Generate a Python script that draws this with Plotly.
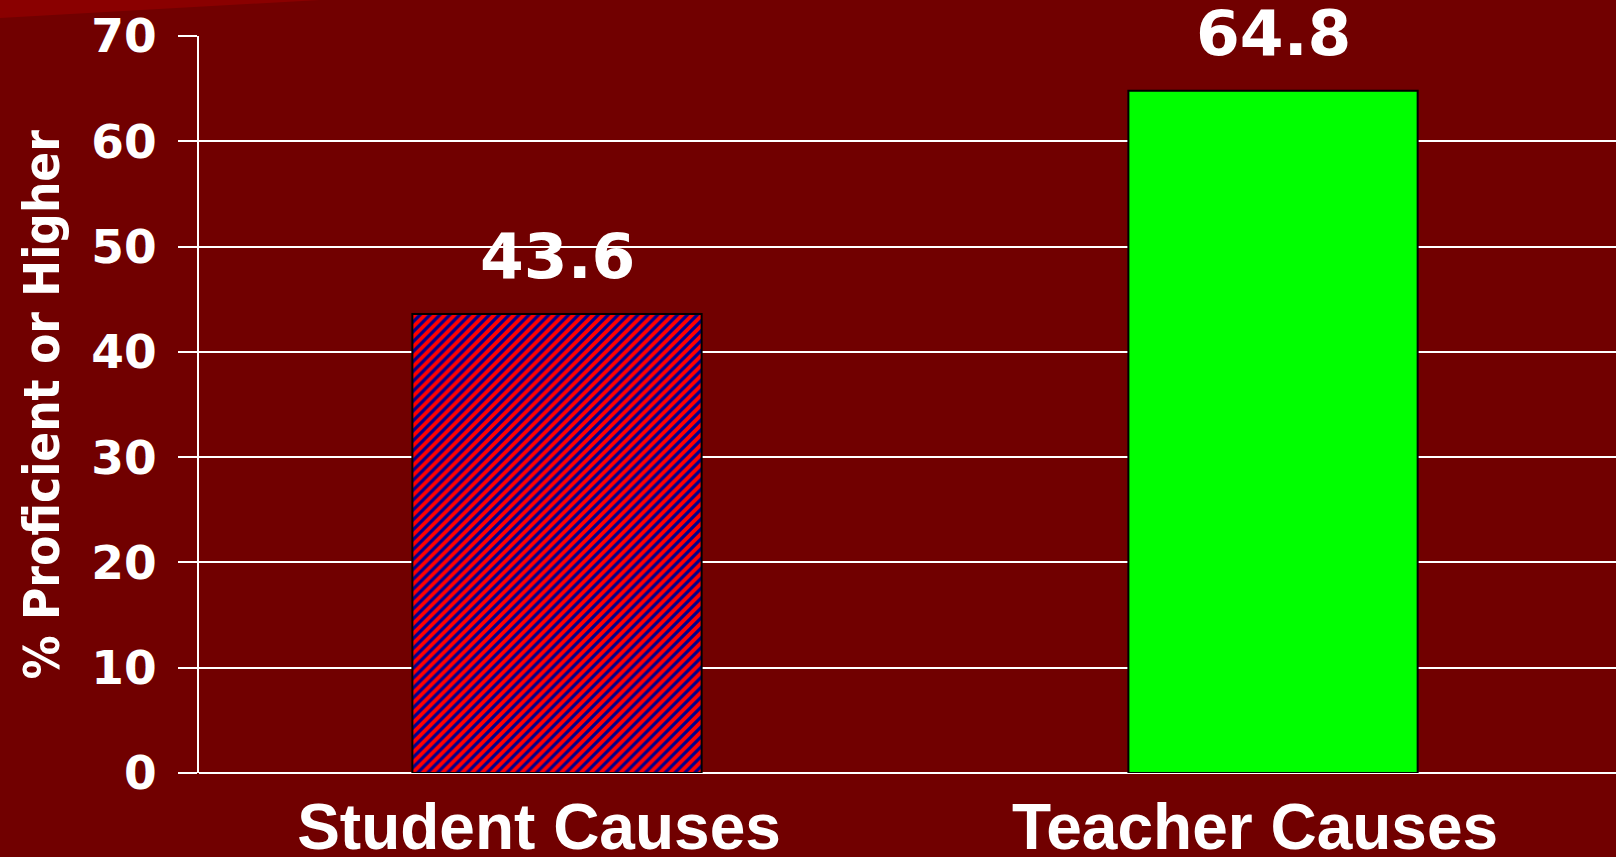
import plotly.graph_objects as go

categories = ["Student Causes", "Teacher Causes"]
values = [43.6, 64.8]
bar_colors = ["#00008b", "#00ff00"]
pattern_shapes = ["/", ""]
pattern_colors = ["#ff0000", "#00ff00"]
y_ticks = [0, 10, 20, 30, 40, 50, 60, 70]
y_title = "% Proficient or Higher"

BG = "#710000"
W, H = 1616, 857
L, R, T, B = 199, 0, 36, 84
NUM_FONT = "DejaVu Sans, Verdana"
COND_FONT = "DejaVu Sans Condensed, DejaVu Sans, Tahoma"

fig = go.Figure()
for c, v, col, shp, fg in zip(categories, values, bar_colors, pattern_shapes, pattern_colors):
    marker = dict(color=col, line=dict(color="#000000", width=2))
    if shp:
        marker["pattern"] = dict(shape=shp, fgcolor=fg, fgopacity=1, bgcolor=col,
                                 size=7, solidity=0.55, fillmode="overlay")
    fig.add_trace(go.Bar(x=[c], y=[v], marker=marker, hoverinfo="skip", name=c))

for c, v in zip(categories, values):
    fig.add_annotation(
        x=c, y=v, text=f"<b>{v}</b>", showarrow=False,
        yanchor="bottom", yshift=19,
        font=dict(family=NUM_FONT, size=63, color="white"),
    )

# y-axis title placed as rotated text left of the tick labels
fig.add_annotation(
    text=f"<b>{y_title}</b>", textangle=-90, showarrow=False,
    xref="paper", yref="paper", x=(42 - L) / (W - L - R), y=0.5,
    xanchor="center", yanchor="middle",
    font=dict(family=COND_FONT, size=49, color="white"),
)

# decorative lighter streak in top-left corner of the slide
def px2paper(px, py):
    return (px - L) / (W - L - R), (H - B - py) / (H - T - B)

pts = [px2paper(0, 0), px2paper(320, 0), px2paper(0, 18)]
path = "M {} {} L {} {} L {} {} Z".format(*[c for p in pts for c in p])
fig.add_shape(type="path", path=path, xref="paper", yref="paper",
              fillcolor="#8a0000", line=dict(width=0), layer="below")

fig.update_layout(
    width=W, height=H,
    margin=dict(l=L, r=R, t=T, b=B, autoexpand=False),
    paper_bgcolor=BG, plot_bgcolor=BG,
    barmode="overlay",
    bargap=0.596,
    showlegend=False,
    xaxis=dict(
        range=[-0.5, 1.479],
        categoryorder="array", categoryarray=categories,
        showgrid=False, showline=False, ticks="",
        tickfont=dict(family="Liberation Sans, Arial", size=64, color="white", weight="bold"),
        ticklabelshift=-18,
        ticklabelstandoff=11,
    ),
    yaxis=dict(
        range=[0, 70],
        tickvals=y_ticks,
        showgrid=True, gridcolor="white", gridwidth=2,
        zeroline=True, zerolinecolor="white", zerolinewidth=2,
        showline=True, linecolor="white", linewidth=2,
        ticks="outside", ticklen=19, tickcolor="white", tickwidth=2,
        tickfont=dict(family=NUM_FONT, size=47, color="white", weight="bold"),
        ticklabelstandoff=12,
    ),
)

fig.write_html(
    "out.html",
    config={"displayModeBar": False},
    post_script="document.body.style.margin='0';document.body.style.background='%s';" % BG,
)
